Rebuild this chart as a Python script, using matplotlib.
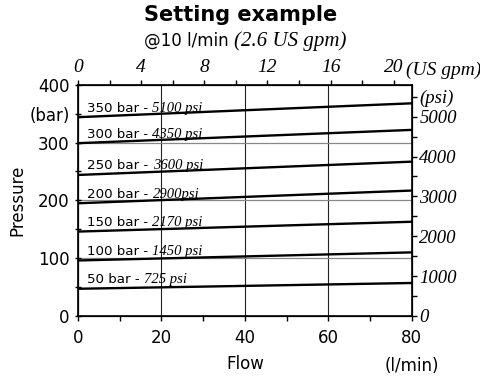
import matplotlib
matplotlib.use("Agg")
import matplotlib.pyplot as plt
from matplotlib.ticker import MultipleLocator, FixedLocator

# set pressure lines (bar at 0 and 80 l/min)
flow = [0, 80]
settings_bar = [350, 300, 250, 200, 150, 100, 50]
settings_psi = ["5100 psi", "4350 psi", "3600 psi", "2900psi", "2170 psi", "1450 psi", "725 psi"]
pressure = [
    [344, 368],
    [299, 322],
    [244, 267],
    [195, 217],
    [146, 163],
    [96, 110],
    [47, 57],
]

bar_ticks = [0, 100, 200, 300, 350, 400]
bar_labels = ["0", "100", "200", "300", "(bar)", "400"]
psi_ticks = [0, 1000, 2000, 3000, 4000, 5000, 5500]
psi_labels = ["0", "1000", "2000", "3000", "4000", "5000", "(psi)"]
gpm_ticks = [0, 4, 8, 12, 16, 20]

SANS = "DejaVu Sans"
SERIF = "Liberation Serif"

fig = plt.figure(figsize=(4.81, 3.77), dpi=100)
ax = fig.add_axes([0.162, 0.162, 0.694, 0.613])

for xv in [20, 40, 60]:
    ax.axvline(xv, color="#222222", lw=0.8, zorder=1)
for yv in [100, 200, 300]:
    ax.axhline(yv, color="#888888", lw=0.9, zorder=1)

for b, p, vals in zip(settings_bar, settings_psi, pressure):
    ax.plot(flow, vals, color="black", lw=1.7, zorder=3)
    ann = ax.annotate(f"{b} bar - ", xy=(2.2, vals[0]), xytext=(0, 4),
                      textcoords="offset points", fontsize=9.6, family=SANS,
                      va="baseline", ha="left", zorder=4)
    ax.annotate(p, xy=(1, 0), xycoords=ann, xytext=(0, 0), textcoords="offset points",
                fontsize=10.5, family=SERIF, style="italic", va="bottom", ha="left")

ax.set_xlim(0, 80)
ax.set_ylim(0, 400)
ax.xaxis.set_major_locator(MultipleLocator(20))
ax.xaxis.set_minor_locator(MultipleLocator(10))
ax.yaxis.set_major_locator(FixedLocator(bar_ticks))
ax.set_yticklabels(bar_labels)
ax.yaxis.set_minor_locator(FixedLocator([50, 150, 250]))
ax.tick_params(axis="both", which="both", direction="out", length=3.5, width=1,
               labelsize=12)
ax.tick_params(axis="x", pad=6)
ax.tick_params(axis="y", which="both", direction="inout", length=5)
for lbl in ax.get_xticklabels() + ax.get_yticklabels():
    lbl.set_family(SANS)
ax.set_xlabel("Flow", fontsize=12, family=SANS, labelpad=6)
ax.set_ylabel("Pressure", fontsize=12, family=SANS, labelpad=2)
ax.text(1.0, -0.215, "(l/min)", transform=ax.transAxes, fontsize=12, family=SANS,
        ha="center", va="center")
for s in ax.spines.values():
    s.set_linewidth(1.2)

# right psi axis
axr = ax.twinx()
axr.set_ylim(0, 400 * 14.5)
axr.yaxis.set_major_locator(FixedLocator(psi_ticks))
axr.set_yticklabels(psi_labels)
axr.yaxis.set_minor_locator(MultipleLocator(500))
axr.tick_params(axis="y", which="both", direction="out", length=3.5, width=1,
                labelsize=13.5, pad=2)
for lbl in axr.get_yticklabels():
    lbl.set_family(SERIF)
    lbl.set_style("italic")

# top US gpm axis
axt = ax.twiny()
axt.set_xlim(0, 80 / 3.785)
axt.xaxis.set_major_locator(FixedLocator(gpm_ticks))
axt.xaxis.set_minor_locator(MultipleLocator(2))
axt.tick_params(axis="x", which="both", direction="out", length=3.5, width=1,
                labelsize=14, pad=3)
for lbl in axt.get_xticklabels():
    lbl.set_family(SERIF)
    lbl.set_style("italic")
axt.text(20.8, 1.027, "(US gpm)", transform=axt.get_xaxis_transform(), fontsize=14,
         family=SERIF, style="italic", ha="left", va="bottom", clip_on=False)

fig.text(0.5, 0.96, "Setting example", fontsize=15, family=SANS, weight="bold",
         ha="center", va="center")
fig.text(0.487, 0.878, "@10 l/min ", fontsize=12, family=SANS, ha="right", va="baseline")
fig.text(0.487, 0.878, "(2.6 US gpm)", fontsize=15, family=SERIF, style="italic",
         ha="left", va="baseline")

fig.savefig("out.png", dpi=100)
